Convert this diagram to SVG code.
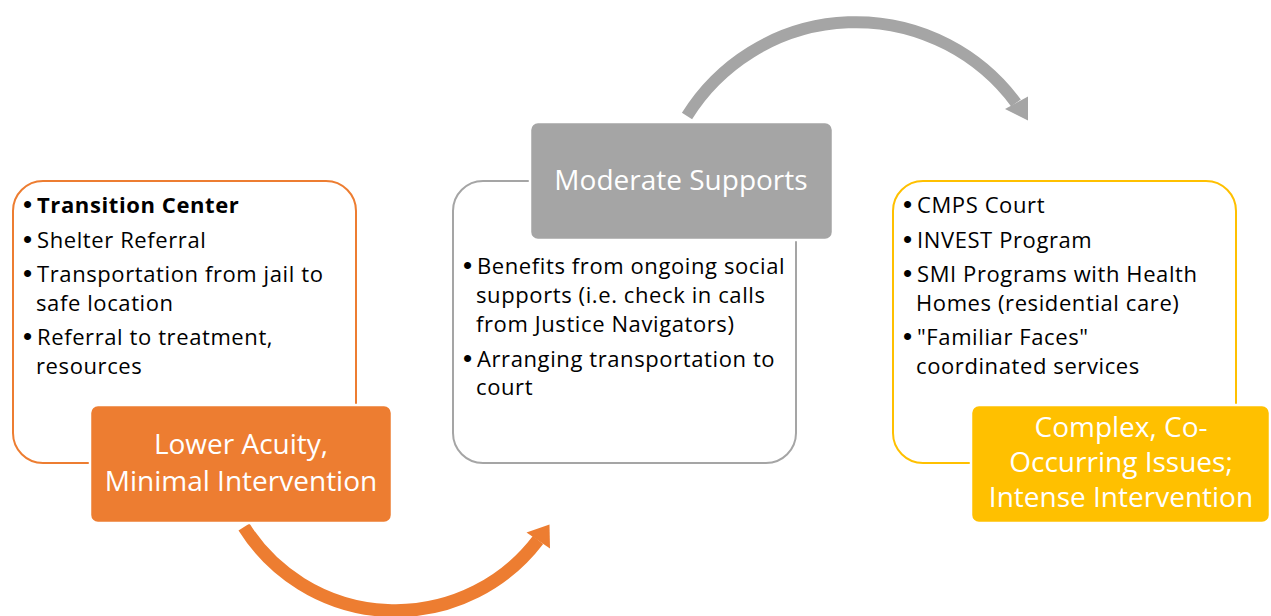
<svg xmlns="http://www.w3.org/2000/svg" width="1271" height="616" viewBox="0 0 1271 616">
  <style>
    .body { font-family: "Open Sans", "Liberation Sans", sans-serif; font-size: 22px; letter-spacing: 0.6px; fill: #000; }
    .dot { font-family: "Liberation Sans", sans-serif; font-size: 26px; fill: #000; }
    .head { font-family: "Open Sans", "Liberation Sans", sans-serif; font-size: 28px; fill: #fff; text-anchor: middle; }
    .frame { fill: #fff; stroke-width: 2; }
    .tab { stroke: #fff; stroke-width: 2.5; }
  </style>

  <!-- curved flow arrows -->
  <g id="connectors">
    <path d="M 244 527 A 179 179 0 0 0 538 540" fill="none" stroke="#ED7D31" stroke-width="13"/>
    <polygon points="549.5,524.5 550,548.5 526.5,532.5" fill="#ED7D31"/>
    <path d="M 687 116 A 199 199 0 0 1 1016 103" fill="none" stroke="#A5A5A5" stroke-width="12"/>
    <polygon points="1028,96.5 1028,120.5 1005,109" fill="#A5A5A5"/>
  </g>

  <!-- stage 1 -->
  <g id="stage-low">
    <rect class="frame" x="13" y="181" width="343" height="282" rx="30" stroke="#ED7D31"/>
    <text class="dot" x="23" y="213">•</text>
    <text class="body" x="37" y="213" font-weight="bold">Transition Center</text>
    <text class="dot" x="23" y="248">•</text>
    <text class="body" x="37" y="248">Shelter Referral</text>
    <text class="dot" x="23" y="282">•</text>
    <text class="body" x="37" y="282">Transportation from jail to</text>
    <text class="body" x="36" y="311">safe location</text>
    <text class="dot" x="23" y="345">•</text>
    <text class="body" x="37" y="345">Referral to treatment,</text>
    <text class="body" x="36" y="374">resources</text>
    <rect class="tab" x="90" y="405" width="302" height="118" rx="8" fill="#ED7D31"/>
    <text class="head" x="241" y="454">Lower Acuity,</text>
    <text class="head" x="241" y="491">Minimal Intervention</text>
  </g>

  <!-- stage 2 -->
  <g id="stage-moderate">
    <rect class="frame" x="453" y="181" width="343" height="282" rx="30" stroke="#A5A5A5"/>
    <rect class="tab" x="530" y="122" width="303" height="118" rx="8" fill="#A5A5A5"/>
    <text class="head" x="681" y="190">Moderate Supports</text>
    <text class="dot" x="463" y="274">•</text>
    <text class="body" x="477" y="274">Benefits from ongoing social</text>
    <text class="body" x="476" y="303">supports (i.e. check in calls</text>
    <text class="body" x="476" y="332">from Justice Navigators)</text>
    <text class="dot" x="463" y="367">•</text>
    <text class="body" x="477" y="367">Arranging transportation to</text>
    <text class="body" x="476" y="395">court</text>
  </g>

  <!-- stage 3 -->
  <g id="stage-intense">
    <rect class="frame" x="893" y="181" width="343" height="282" rx="30" stroke="#FFC000"/>
    <text class="dot" x="903" y="213">•</text>
    <text class="body" x="917" y="213">CMPS Court</text>
    <text class="dot" x="903" y="248">•</text>
    <text class="body" x="917" y="248">INVEST Program</text>
    <text class="dot" x="903" y="282">•</text>
    <text class="body" x="917" y="282">SMI Programs with Health</text>
    <text class="body" x="916" y="311">Homes (residential care)</text>
    <text class="dot" x="903" y="345">•</text>
    <text class="body" x="917" y="345">"Familiar Faces"</text>
    <text class="body" x="916" y="374">coordinated services</text>
    <rect class="tab" x="971" y="405" width="299" height="118" rx="8" fill="#FFC000"/>
    <text class="head" x="1121" y="437">Complex, Co-</text>
    <text class="head" x="1121" y="472">Occurring Issues;</text>
    <text class="head" x="1121" y="507">Intense Intervention</text>
  </g>
</svg>
